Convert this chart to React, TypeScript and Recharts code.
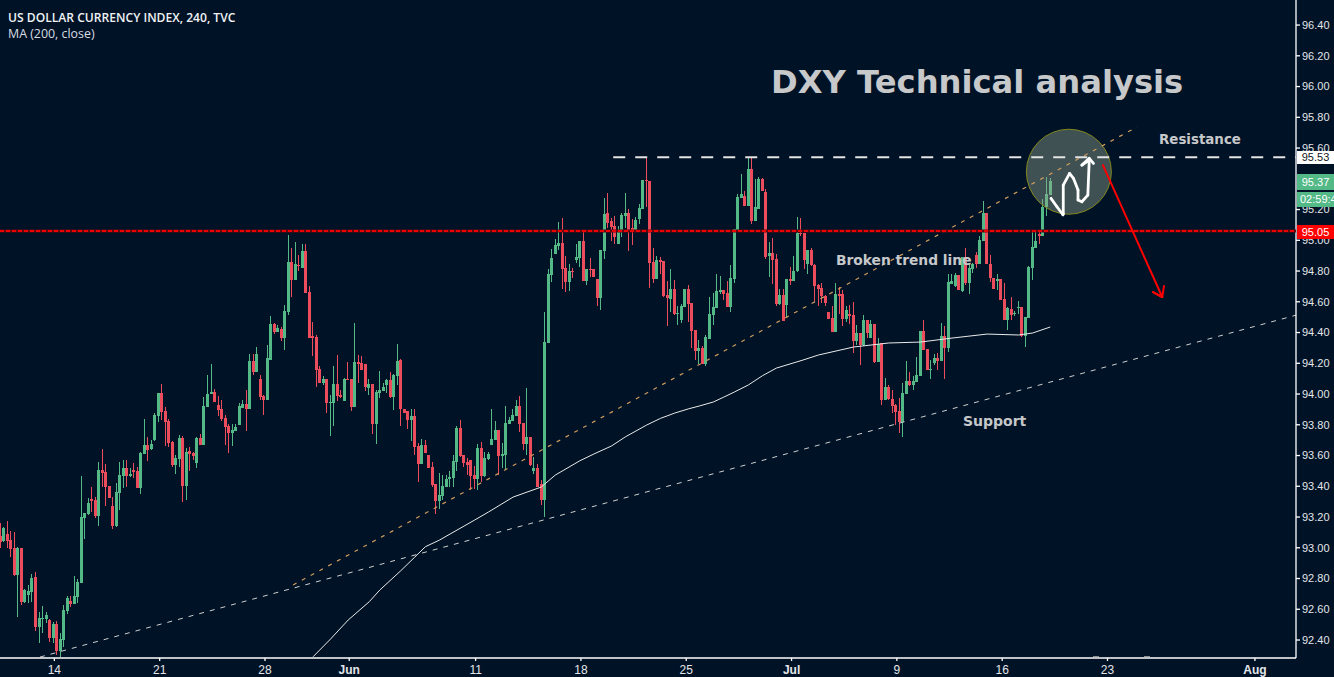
import { Bar, ComposedChart, Line, ReferenceDot, ReferenceLine, XAxis, YAxis } from 'recharts';

// 4h candles, index 0 is the first bar on the left edge
const opens = [
  93.076, 93.046, 93.089, 93.050, 92.998, 92.823, 92.998, 92.649, 92.692, 92.714,
  92.810, 92.486, 92.539, 92.539, 92.530, 92.415, 92.504, 92.330, 92.400, 92.591,
  92.653, 92.636, 92.682, 92.773, 93.193, 93.219, 93.317, 93.310, 93.206, 93.505,
  93.492, 93.401, 93.271, 93.141, 93.356, 93.466, 93.518, 93.466, 93.505, 93.499,
  93.388, 93.610, 93.668, 93.640, 93.701, 93.857, 94.006, 93.889, 93.824, 93.688,
  93.538, 93.577, 93.714, 93.401, 93.629, 93.616, 93.551, 93.714, 93.668, 93.915,
  94.000, 94.013, 93.928, 93.902, 93.844, 93.792, 93.746, 93.759, 93.798, 93.909,
  93.935, 93.902, 94.214, 94.143, 94.097, 93.987, 93.961, 94.221, 94.455, 94.403,
  94.423, 94.365, 94.534, 94.859, 94.742, 94.839, 94.820, 94.930, 94.664, 94.378,
  94.371, 94.163, 94.072, 94.098, 93.942, 93.942, 94.065, 93.994, 93.955, 94.098,
  94.098, 93.916, 94.208, 94.202, 94.195, 94.039, 94.065, 93.805, 94.007, 94.020,
  94.059, 94.091, 93.981, 94.117, 94.221, 93.903, 93.890, 93.831, 93.857, 93.662,
  93.545, 93.669, 93.604, 93.526, 93.415, 93.304, 93.337, 93.395, 93.447, 93.454,
  93.558, 93.779, 93.604, 93.558, 93.571, 93.473, 93.447, 93.649, 93.467, 93.578,
  93.669, 93.701, 93.766, 93.597, 93.604, 93.805, 93.825, 93.857, 93.922, 93.812,
  93.675, 93.721, 93.499, 93.519, 93.415, 93.311, 94.332, 94.774, 94.911, 94.963,
  94.982, 94.819, 94.728, 94.800, 94.872, 94.885, 94.995, 94.735, 94.813, 94.813,
  94.748, 94.624, 94.930, 95.177, 95.125, 95.093, 94.976, 95.054, 95.158, 95.177,
  95.080, 95.060, 95.138, 95.203, 95.392, 95.385, 94.859, 94.748, 94.872, 94.865,
  94.644, 94.618, 94.683, 94.520, 94.481, 94.566, 94.683, 94.592, 94.416, 94.280,
  94.299, 94.195, 94.358, 94.514, 94.559, 94.663, 94.676, 94.657, 94.566, 94.748,
  95.067, 95.275, 95.288, 95.223, 95.463, 95.125, 95.203, 95.398, 95.314, 94.898,
  94.917, 94.878, 94.585, 94.644, 94.579, 94.748, 94.735, 94.800, 95.047, 95.047,
  94.846, 94.937, 94.839, 94.709, 94.690, 94.638, 94.534, 94.494, 94.403, 94.651,
  94.651, 94.488, 94.521, 94.514, 94.345, 94.397, 94.319, 94.481, 94.364, 94.455,
  94.208, 94.332, 93.961, 94.046, 93.968, 93.929, 93.890, 93.818, 94.000, 94.085,
  94.059, 94.078, 94.117, 94.410, 94.293, 94.156, 94.202, 94.234, 94.215, 94.377,
  94.299, 94.716, 94.703, 94.774, 94.670, 94.891, 94.722, 94.813, 94.904, 94.846,
  94.995, 95.177, 94.846, 94.755, 94.735, 94.748, 94.618, 94.481, 94.553, 94.521,
  94.560, 94.566, 94.377, 94.494, 94.820, 94.950, 95.041, 95.028, 95.216, 95.294,
];
const highs = [
  93.159, 93.137, 93.172, 93.107, 93.102, 93.007, 92.998, 92.731, 92.755, 92.829,
  92.840, 92.580, 92.621, 92.584, 92.534, 92.519, 92.525, 92.443, 92.627, 92.686,
  92.686, 92.816, 92.794, 93.466, 93.226, 93.321, 93.393, 93.328, 93.557, 93.642,
  93.542, 93.401, 93.328, 93.419, 93.557, 93.570, 93.570, 93.516, 93.551, 93.527,
  93.625, 93.837, 93.718, 93.701, 93.876, 94.006, 94.065, 93.913, 93.837, 93.694,
  93.603, 93.733, 93.727, 93.649, 93.655, 93.623, 93.720, 93.740, 93.980, 94.123,
  94.195, 94.032, 93.987, 93.961, 93.863, 93.805, 93.805, 93.805, 93.941, 93.961,
  94.026, 94.260, 94.260, 94.305, 94.123, 93.993, 94.318, 94.507, 94.462, 94.449,
  94.436, 94.579, 95.034, 94.950, 94.989, 94.904, 94.976, 94.976, 94.703, 94.469,
  94.384, 94.182, 94.117, 94.098, 93.994, 94.182, 94.254, 94.026, 94.104, 94.208,
  94.098, 94.462, 94.254, 94.247, 94.195, 94.098, 94.065, 94.026, 94.150, 94.072,
  94.098, 94.143, 94.130, 94.326, 94.228, 93.903, 93.890, 93.903, 93.903, 93.682,
  93.708, 93.701, 93.604, 93.558, 93.415, 93.486, 93.473, 93.473, 93.499, 93.604,
  93.792, 93.831, 93.604, 93.584, 93.571, 93.532, 93.675, 93.688, 93.623, 93.623,
  93.903, 93.825, 93.766, 93.682, 93.922, 93.851, 93.903, 93.961, 93.987, 93.812,
  94.039, 93.721, 93.591, 93.545, 93.441, 94.534, 94.813, 94.943, 95.008, 95.119,
  95.145, 94.898, 94.846, 94.819, 94.976, 94.995, 95.054, 94.813, 94.885, 94.813,
  94.748, 94.937, 95.275, 95.307, 95.145, 95.158, 95.093, 95.177, 95.307, 95.203,
  95.138, 95.151, 95.236, 95.392, 95.535, 95.385, 94.950, 94.898, 94.891, 94.865,
  94.735, 94.813, 94.741, 94.572, 94.585, 94.683, 94.709, 94.592, 94.416, 94.351,
  94.312, 94.384, 94.631, 94.657, 94.780, 94.767, 94.676, 94.735, 94.839, 95.073,
  95.301, 95.431, 95.320, 95.535, 95.535, 95.398, 95.411, 95.405, 95.333, 94.989,
  95.015, 94.911, 94.683, 94.683, 94.748, 94.826, 94.898, 95.151, 95.145, 95.047,
  94.937, 94.950, 94.846, 94.715, 94.720, 94.644, 94.534, 94.573, 94.720, 94.696,
  94.677, 94.573, 94.579, 94.599, 94.449, 94.397, 94.514, 94.481, 94.481, 94.455,
  94.364, 94.332, 94.104, 94.059, 94.026, 93.935, 93.974, 94.072, 94.215, 94.143,
  94.117, 94.241, 94.410, 94.481, 94.293, 94.221, 94.260, 94.267, 94.462, 94.442,
  94.781, 94.781, 94.787, 94.774, 94.891, 94.950, 94.846, 94.852, 94.924, 95.028,
  95.255, 95.177, 94.904, 94.755, 94.781, 94.748, 94.722, 94.566, 94.631, 94.540,
  94.605, 94.566, 94.501, 94.833, 95.067, 95.060, 95.067, 95.268, 95.413, 95.403,
];
const lows = [
  92.998, 93.039, 92.996, 92.942, 92.816, 92.552, 92.627, 92.638, 92.643, 92.649,
  92.460, 92.378, 92.443, 92.508, 92.389, 92.378, 92.302, 92.291, 92.356, 92.569,
  92.617, 92.634, 92.643, 92.768, 93.059, 93.213, 93.234, 93.195, 93.143, 93.397,
  93.271, 93.321, 93.124, 93.137, 93.245, 93.391, 93.397, 93.462, 93.451, 93.386,
  93.349, 93.610, 93.564, 93.636, 93.696, 93.820, 93.831, 93.662, 93.653, 93.523,
  93.479, 93.527, 93.297, 93.310, 93.499, 93.570, 93.518, 93.668, 93.668, 93.915,
  94.000, 93.948, 93.857, 93.824, 93.668, 93.616, 93.662, 93.759, 93.798, 93.909,
  93.759, 93.902, 94.123, 94.143, 93.961, 93.863, 93.961, 94.221, 94.390, 94.403,
  94.345, 94.286, 94.514, 94.631, 94.742, 94.800, 94.820, 94.657, 94.365, 94.247,
  94.046, 94.072, 94.059, 93.877, 93.727, 93.792, 93.955, 93.974, 93.955, 94.091,
  93.890, 93.916, 94.072, 94.156, 94.020, 93.994, 93.740, 93.675, 93.974, 94.020,
  94.007, 93.974, 93.896, 94.059, 93.792, 93.877, 93.773, 93.695, 93.604, 93.428,
  93.545, 93.617, 93.519, 93.395, 93.220, 93.252, 93.311, 93.395, 93.395, 93.395,
  93.499, 93.591, 93.526, 93.473, 93.376, 93.382, 93.376, 93.428, 93.460, 93.571,
  93.669, 93.701, 93.473, 93.519, 93.506, 93.805, 93.825, 93.857, 93.753, 93.636,
  93.604, 93.532, 93.480, 93.395, 93.278, 93.200, 94.332, 94.728, 94.911, 94.937,
  94.683, 94.663, 94.670, 94.754, 94.852, 94.826, 94.735, 94.709, 94.763, 94.761,
  94.572, 94.546, 94.878, 95.080, 94.995, 94.976, 94.976, 95.021, 95.080, 94.930,
  94.969, 95.060, 95.106, 95.203, 95.216, 94.689, 94.722, 94.748, 94.780, 94.631,
  94.442, 94.533, 94.514, 94.449, 94.462, 94.566, 94.468, 94.299, 94.221, 94.195,
  94.195, 94.182, 94.358, 94.449, 94.559, 94.650, 94.611, 94.566, 94.533, 94.722,
  95.067, 95.275, 95.223, 95.223, 95.106, 95.125, 95.203, 95.320, 94.878, 94.761,
  94.715, 94.572, 94.579, 94.475, 94.492, 94.709, 94.735, 94.793, 95.028, 94.813,
  94.780, 94.832, 94.605, 94.572, 94.594, 94.573, 94.488, 94.403, 94.403, 94.521,
  94.442, 94.468, 94.455, 94.267, 94.319, 94.189, 94.312, 94.362, 94.364, 94.202,
  94.208, 93.929, 93.961, 93.961, 93.877, 93.799, 93.744, 93.723, 94.000, 94.052,
  94.026, 94.078, 94.117, 94.286, 94.156, 94.098, 94.189, 94.156, 94.215, 94.098,
  94.273, 94.716, 94.696, 94.677, 94.664, 94.709, 94.651, 94.785, 94.820, 94.846,
  94.995, 94.846, 94.729, 94.683, 94.677, 94.612, 94.481, 94.416, 94.481, 94.507,
  94.521, 94.371, 94.306, 94.494, 94.742, 94.950, 94.976, 95.028, 95.160, 95.294,
];
const closes = [
  93.039, 93.130, 93.046, 92.994, 92.823, 92.998, 92.649, 92.725, 92.718, 92.805,
  92.486, 92.543, 92.545, 92.562, 92.415, 92.504, 92.330, 92.406, 92.595, 92.673,
  92.636, 92.686, 92.779, 93.200, 93.226, 93.291, 93.304, 93.206, 93.505, 93.484,
  93.395, 93.323, 93.141, 93.362, 93.473, 93.518, 93.466, 93.479, 93.492, 93.391,
  93.616, 93.668, 93.636, 93.675, 93.863, 94.006, 93.883, 93.818, 93.681, 93.538,
  93.583, 93.714, 93.401, 93.623, 93.610, 93.596, 93.714, 93.668, 93.922, 94.000,
  94.013, 93.948, 93.896, 93.837, 93.785, 93.746, 93.766, 93.785, 93.922, 93.935,
  93.902, 94.214, 94.143, 94.260, 93.980, 93.961, 94.234, 94.455, 94.403, 94.429,
  94.365, 94.540, 94.859, 94.742, 94.846, 94.833, 94.930, 94.657, 94.365, 94.365,
  94.156, 94.072, 94.098, 93.942, 93.948, 94.065, 93.987, 93.981, 94.098, 94.091,
  93.916, 94.208, 94.195, 94.156, 94.046, 94.065, 93.805, 94.013, 94.026, 94.046,
  94.091, 93.981, 94.124, 94.215, 93.903, 93.877, 93.831, 93.857, 93.656, 93.545,
  93.669, 93.617, 93.519, 93.408, 93.304, 93.343, 93.402, 93.447, 93.460, 93.565,
  93.779, 93.597, 93.552, 93.539, 93.467, 93.447, 93.649, 93.467, 93.584, 93.610,
  93.708, 93.766, 93.597, 93.610, 93.812, 93.831, 93.864, 93.922, 93.805, 93.675,
  93.721, 93.539, 93.519, 93.395, 93.311, 94.339, 94.781, 94.885, 94.969, 94.982,
  94.813, 94.728, 94.800, 94.793, 94.891, 94.995, 94.735, 94.813, 94.806, 94.761,
  94.624, 94.937, 95.171, 95.112, 95.086, 95.021, 95.054, 95.164, 95.177, 95.067,
  95.067, 95.132, 95.210, 95.392, 95.385, 94.852, 94.748, 94.872, 94.859, 94.637,
  94.624, 94.683, 94.520, 94.527, 94.572, 94.683, 94.585, 94.410, 94.280, 94.299,
  94.195, 94.371, 94.520, 94.566, 94.670, 94.676, 94.650, 94.566, 94.754, 95.073,
  95.281, 95.301, 95.223, 95.463, 95.125, 95.216, 95.398, 95.320, 94.891, 94.917,
  94.872, 94.585, 94.644, 94.475, 94.748, 94.735, 94.800, 95.047, 95.041, 94.872,
  94.937, 94.839, 94.702, 94.683, 94.638, 94.592, 94.488, 94.403, 94.651, 94.638,
  94.488, 94.547, 94.507, 94.345, 94.397, 94.319, 94.481, 94.397, 94.455, 94.208,
  94.325, 93.961, 94.046, 93.968, 93.922, 93.883, 93.818, 94.007, 94.085, 94.059,
  94.085, 94.124, 94.410, 94.286, 94.156, 94.163, 94.234, 94.215, 94.377, 94.299,
  94.729, 94.735, 94.774, 94.677, 94.891, 94.722, 94.820, 94.846, 94.846, 95.002,
  95.177, 94.846, 94.755, 94.683, 94.748, 94.612, 94.481, 94.560, 94.514, 94.527,
  94.566, 94.377, 94.501, 94.826, 94.956, 94.995, 95.028, 95.216, 95.301, 95.385,
];

// MA (200, close), read at a handful of bars
const maIndex = [
  89, 94, 99, 105, 108, 114, 118, 121, 125, 135, 139, 146, 154, 158, 165, 169, 174, 178, 184, 188,
  192, 196, 199, 203, 206, 209, 213, 217, 221, 228, 233, 243, 253, 262, 271, 281, 290, 294, 299,
];
const maValues = [
  92.291, 92.407, 92.530, 92.649, 92.725, 92.851, 92.940, 93.007, 93.050, 93.180, 93.233, 93.330, 93.395, 93.473,
  93.566, 93.610, 93.662, 93.722, 93.798, 93.842, 93.876, 93.904, 93.922, 93.948, 93.980, 94.013, 94.059, 94.119,
  94.169, 94.217, 94.254, 94.306, 94.332, 94.338, 94.364, 94.390, 94.384, 94.397, 94.436,
];

// hand drawn squiggle inside the circle
const squiggleIndex = [299.2, 300.9, 302.6, 302.7, 302.7, 304.5, 305.6, 306.9, 306.9, 308, 309.7, 310.1, 308, 310.1, 311.3];
const squigglePrice = [95.273, 95.218, 95.166, 95.171, 95.359, 95.435, 95.403, 95.327, 95.262, 95.251, 95.294, 95.522, 95.489, 95.533, 95.5];

// red arrow, start -> tip -> barb -> tip -> barb
const arrowIndex = [314, 330.9, 328.3, 330.9, 331.4];
const arrowPrice = [95.489, 94.631, 94.663, 94.631, 94.702];

const xTicks = [15.3, 45.3, 75.3, 99.3, 135.3, 165.3, 195.3, 225.3, 255.3, 285.3, 315.3, 357.3];
const xLabels = ['14', '21', '28', 'Jun', '11', '18', '25', 'Jul', '9', '16', '23', 'Aug'];
const monthLabels = ['Jun', 'Jul', 'Aug'];
const yTicks = [
  92.4, 92.6, 92.8, 93.0, 93.2, 93.4, 93.6, 93.8, 94.0, 94.2, 94.4, 94.6, 94.8, 95.0, 95.2, 95.6, 95.8, 96.0, 96.2, 96.4,
];

const XMIN = -0.185;
const XMAX = 369;
const YMIN = 92.283;
const YMAX = 96.563;
const UP = '#53b987';
const DOWN = '#eb4d5c';
const BG = '#001226';

const candles = opens.map((open, i) => ({
  i,
  open,
  high: highs[i],
  low: lows[i],
  close: closes[i],
  range: [lows[i], highs[i]],
}));
const maLine = maIndex.map((i, k) => ({ i, ma: maValues[k] }));

function Candle(props: any) {
  const { x, y, width, height, payload } = props;
  const { open, high, low, close } = payload;
  const color = close >= open ? UP : DOWN;
  const perUnit = height / Math.max(high - low, 0.0001);
  const top = y + (high - Math.max(open, close)) * perUnit;
  const bottom = y + (high - Math.min(open, close)) * perUnit;
  const cx = Math.round(x + width / 2 - 0.5);
  return (
    <g shapeRendering="crispEdges">
      <rect x={cx} y={y} width={1} height={Math.max(height, 1)} fill={color} />
      <rect x={cx - 1} y={top} width={3} height={Math.max(bottom - top, 1)} fill={color} />
    </g>
  );
}

function TimeTick(props: any) {
  const { x, y, payload } = props;
  const label = xLabels[xTicks.indexOf(payload.value)];
  return (
    <text
      x={x}
      y={y + 11}
      textAnchor="middle"
      fill="#e4e6ea"
      fontSize={12}
      fontWeight={monthLabels.includes(label) ? 700 : 400}
      fontFamily="Liberation Sans"
    >
      {label}
    </text>
  );
}

function penStrokes(xs: number[], ys: number[], color: string, strokeWidth: number) {
  return xs.slice(1).map((x, k) => (
    <ReferenceLine
      key={`${color}-${k}`}
      segment={[{ x: xs[k], y: ys[k] }, { x, y: ys[k + 1] }]}
      stroke={color}
      strokeWidth={strokeWidth}
      strokeLinecap="round"
    />
  ));
}

const noteStyle = {
  position: 'absolute' as const,
  fontFamily: 'DejaVu Sans',
  fontWeight: 700,
  color: '#c6c8ca',
  whiteSpace: 'nowrap' as const,
  lineHeight: 1,
};

const tagStyle = {
  position: 'absolute' as const,
  left: 1297,
  width: 37,
  overflow: 'hidden',
  fontFamily: 'Liberation Sans',
  fontSize: 11,
  textAlign: 'center' as const,
  whiteSpace: 'nowrap' as const,
};

export default function App() {
  return (
    <div style={{ position: 'absolute', left: 0, top: 0, width: 1334, height: 677, background: BG, overflow: 'hidden' }}>
      <ComposedChart
        width={1334}
        height={677}
        data={candles}
        margin={{ top: 0, right: 0, bottom: 0, left: 0 }}
        style={{ position: 'absolute', left: 0, top: 0 }}
      >
        <XAxis
          dataKey="i"
          type="number"
          domain={[XMIN, XMAX]}
          allowDataOverflow
          ticks={xTicks}
          interval={0}
          height={19}
          tick={<TimeTick />}
          tickSize={3}
          stroke="#ffffff"
          strokeWidth={1.3}
        />
        <YAxis
          orientation="right"
          type="number"
          domain={[YMIN, YMAX]}
          allowDataOverflow
          ticks={yTicks}
          interval={0}
          width={38}
          tickFormatter={(v: number) => v.toFixed(2)}
          tick={{ fill: '#e4e6ea', fontSize: 11, fontFamily: 'Liberation Sans' }}
          tickSize={4}
          tickMargin={2}
          stroke="#ffffff"
          strokeWidth={1.3}
        />
        <Bar dataKey="range" barSize={3} shape={<Candle />} isAnimationActive={false} />
        <Line
          data={maLine}
          dataKey="ma"
          stroke="#eaeaea"
          strokeWidth={1}
          dot={false}
          activeDot={false}
          isAnimationActive={false}
        />
        <ReferenceLine
          segment={[{ x: 11.2, y: 92.289 }, { x: XMAX, y: 94.513 }]}
          stroke="#d0d0d0"
          strokeDasharray="5 6"
        />
        <ReferenceDot
          x={304.3}
          y={95.446}
          r={42.5}
          fill="#96aa90"
          fillOpacity={0.42}
          stroke="#85881f"
          strokeWidth={1}
        />
      </ComposedChart>

      {/* second layer, same scales: the drawings that sit on top of the circle */}
      <ComposedChart
        width={1334}
        height={677}
        data={candles}
        margin={{ top: 0, right: 38, bottom: 19, left: 0 }}
        style={{ position: 'absolute', left: 0, top: 0 }}
      >
        <XAxis hide dataKey="i" type="number" domain={[XMIN, XMAX]} allowDataOverflow />
        <YAxis hide type="number" domain={[YMIN, YMAX]} allowDataOverflow />
        <ReferenceLine
          segment={[{ x: 83.3, y: 92.758 }, { x: 323.7, y: 95.737 }]}
          stroke="#d09c5e"
          strokeWidth={1.2}
          strokeDasharray="4 6"
        />
        <ReferenceLine y={95.06} stroke="#5e0810" strokeWidth={3} />
        <ReferenceLine y={95.06} stroke="#f00000" strokeWidth={2} strokeDasharray="4 2" />
        <ReferenceLine
          segment={[{ x: 174.5, y: 95.54 }, { x: XMAX, y: 95.54 }]}
          stroke="#e4e4e4"
          strokeWidth={2}
          strokeDasharray="12 10"
        />
        {penStrokes(squiggleIndex, squigglePrice, '#ffffff', 2.8)}
        {penStrokes(arrowIndex, arrowPrice, '#ff0000', 2)}
      </ComposedChart>

      <div style={{ position: 'absolute', left: 8, top: 9, fontFamily: 'Open Sans', fontSize: 12.1, fontWeight: 600, color: '#f0f3f5', whiteSpace: 'nowrap' }}>
        US DOLLAR CURRENCY INDEX, 240, TVC
      </div>
      <div style={{ position: 'absolute', left: 8, top: 25, fontFamily: 'Open Sans', fontSize: 12.4, color: '#d8dde2', whiteSpace: 'nowrap' }}>
        MA (200, close)
      </div>

      <div style={{ ...noteStyle, left: 771, top: 66, fontSize: 32.2 }}>DXY Technical analysis</div>
      <div style={{ ...noteStyle, left: 1159, top: 133, fontSize: 13.4 }}>Resistance</div>
      <div style={{ ...noteStyle, left: 836, top: 254, fontSize: 13.8 }}>Broken trend line</div>
      <div style={{ ...noteStyle, left: 963, top: 414, fontSize: 14 }}>Support</div>

      <div style={{ ...tagStyle, top: 151, height: 13, lineHeight: '13px', background: '#ffffff', color: '#131722' }}>95.53</div>
      <div style={{ ...tagStyle, top: 174, height: 16, lineHeight: '16px', background: UP, color: '#ffffff' }}>95.37</div>
      <div style={{ ...tagStyle, top: 192, height: 15, lineHeight: '15px', background: UP, color: '#ffffff', textAlign: 'left', paddingLeft: 3, boxSizing: 'border-box' }}>02:59:4</div>
      <div style={{ ...tagStyle, top: 225, height: 14, lineHeight: '14px', background: '#ff0000', color: '#ffffff' }}>95.05</div>

      <div style={{ position: 'absolute', left: 1093, top: 656, width: 6, height: 1, background: '#8a8f94' }} />
      <div style={{ position: 'absolute', left: 1144, top: 656, width: 6, height: 1, background: '#8a8f94' }} />
    </div>
  );
}
